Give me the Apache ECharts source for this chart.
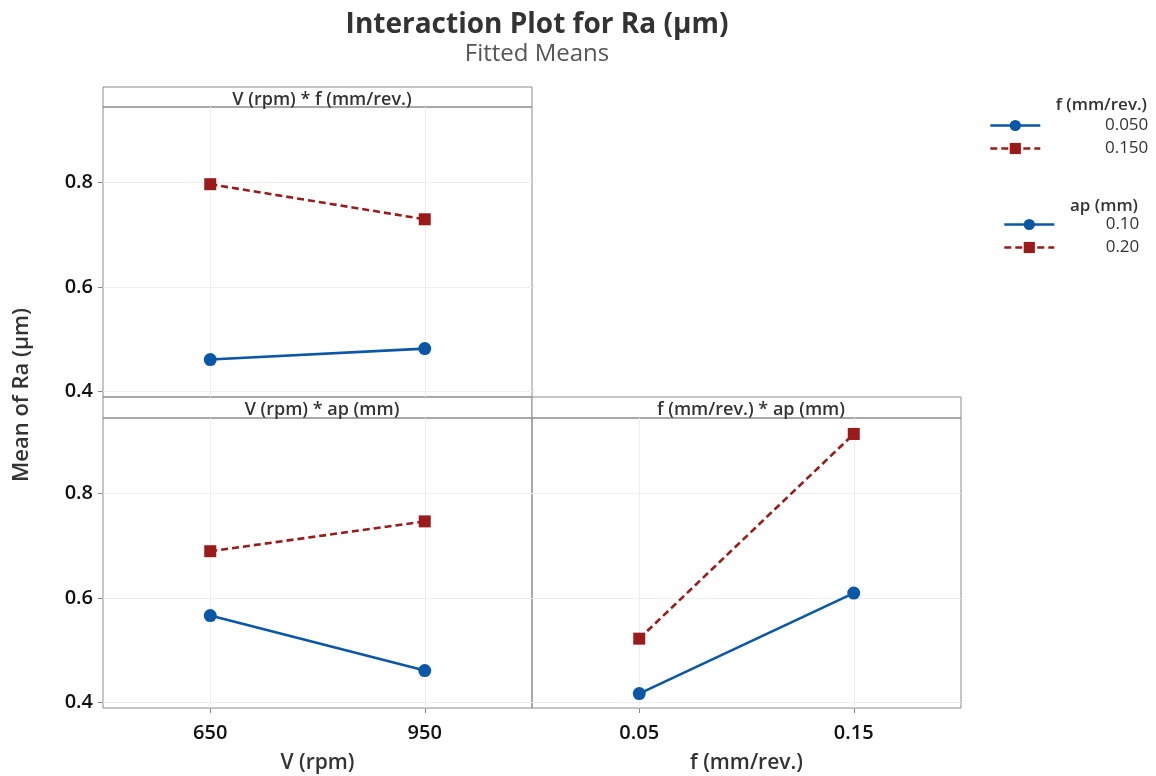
<!DOCTYPE html>
<html>
<head>
<meta charset="utf-8">
<script src="https://cdn.jsdelivr.net/npm/echarts@6/dist/echarts.min.js"></script>
<style>
  html, body { margin: 0; padding: 0; background: #fff; }
  #chart { width: 1156px; height: 776px; }
</style>
</head>
<body>
<div id="chart"></div>
<script>
// factor levels
var speedLevels = [650, 950]
var feedLevels = [0.05, 0.15]
var yTicks = [0.4, 0.6, 0.8]

// V * f panel
var vf_f050 = [0.461, 0.482]
var vf_f150 = [0.796, 0.729]
// V * ap panel
var vap_ap10 = [0.566, 0.461]
var vap_ap20 = [0.689, 0.746]
// f * ap panel
var fap_ap10 = [0.417, 0.609]
var fap_ap20 = [0.522, 0.913]

var blue = '#0a57a8'
var red = '#9b1a1a'
var border = '#8c8c8c'
var font = 'Open Sans'

function pairs(xs, ys) {
  var out = []
  for (var i = 0; i < xs.length; i++) {
    out.push([xs[i], ys[i]])
  }
  return out
}

function lineSeries(name, idx, xs, ys, dashed) {
  return {
    name: name,
    type: 'line',
    xAxisIndex: idx,
    yAxisIndex: idx,
    data: pairs(xs, ys),
    symbol: dashed ? 'rect' : 'circle',
    symbolSize: dashed ? 12 : 13,
    showAllSymbol: true,
    silent: true,
    lineStyle: {
      color: dashed ? red : blue,
      width: 2.6,
      type: dashed ? [7, 4] : 'solid'
    },
    itemStyle: {
      color: dashed ? red : blue
    }
  }
}

function xAxisFor(idx, min, max, ticks, name, showLabels) {
  return {
    type: 'value',
    gridIndex: idx,
    min: min,
    max: max,
    name: showLabels ? name : '',
    nameLocation: 'middle',
    nameGap: 45,
    nameTextStyle: { color: '#333', fontSize: 21, fontFamily: font, fontWeight: 600 },
    axisLine: { show: false },
    axisTick: { show: showLabels, customValues: ticks, length: 5, lineStyle: { color: border } },
    axisLabel: {
      show: showLabels,
      customValues: ticks,
      margin: 15,
      color: '#111',
      fontSize: 20,
      fontFamily: font,
      fontWeight: 600,
      formatter: function (v) { return String(v) }
    },
    splitLine: { show: true, lineStyle: { color: '#eeeeee' } }
  }
}

function yAxisFor(idx, showLabels) {
  return {
    type: 'value',
    gridIndex: idx,
    min: 0.3895,
    max: 0.9435,
    axisLine: { show: false },
    axisTick: { show: showLabels, customValues: yTicks, length: 5, lineStyle: { color: border } },
    axisLabel: {
      show: showLabels,
      customValues: yTicks,
      margin: 10,
      color: '#111',
      fontSize: 20,
      fontFamily: font,
      fontWeight: 600,
      formatter: function (v) { return v.toFixed(1) }
    },
    splitLine: { show: true, lineStyle: { color: '#eeeeee' } }
  }
}

function legendFor(names, left, top, textWidth) {
  return {
    data: names,
    orient: 'vertical',
    left: left,
    top: top,
    padding: 0,
    itemWidth: 50,
    itemHeight: 14,
    itemGap: 6,
    selectedMode: false,
    lineStyle: { width: 2.6 },
    formatter: '{v|{name}}',
    textStyle: {
      rich: {
        v: { width: textWidth, align: 'right', fontSize: 17, fontFamily: font, color: '#333', fontWeight: 500 }
      }
    }
  }
}

function panelGrid(left, top) {
  return {
    left: left,
    top: top,
    width: 429,
    height: 290,
    show: true,
    borderColor: border,
    borderWidth: 1,
    containLabel: false,
    outerBoundsMode: 'none'
  }
}

var chart = echarts.init(document.getElementById('chart'))
var option = {
  backgroundColor: '#fff',
  animation: false,
  title: [
    {
      text: 'Interaction Plot for Ra (µm)',
      subtext: 'Fitted Means',
      left: 532,
      textAlign: 'center',
      top: 6,
      itemGap: 3,
      textStyle: { fontSize: 28, fontWeight: 'bold', color: '#333', fontFamily: font },
      subtextStyle: { fontSize: 24, color: '#555', fontFamily: font }
    },
    {
      text: 'V (rpm) * f (mm/rev.)',
      left: 317,
      textAlign: 'center',
      top: 86,
      textStyle: { fontSize: 18, fontWeight: 600, color: '#333', fontFamily: font }
    },
    {
      text: 'V (rpm) * ap (mm)',
      left: 317,
      textAlign: 'center',
      top: 396,
      textStyle: { fontSize: 18, fontWeight: 600, color: '#333', fontFamily: font }
    },
    {
      text: 'f (mm/rev.) * ap (mm)',
      left: 746,
      textAlign: 'center',
      top: 396,
      textStyle: { fontSize: 18, fontWeight: 600, color: '#333', fontFamily: font }
    },
    {
      text: 'f (mm/rev.)',
      right: 9,
      top: 97,
      padding: 0,
      textStyle: { fontSize: 17, fontWeight: 600, color: '#333', fontFamily: font }
    },
    {
      text: 'ap (mm)',
      right: 18,
      top: 198,
      padding: 0,
      textStyle: { fontSize: 17, fontWeight: 600, color: '#333', fontFamily: font }
    }
  ],
  legend: [
    legendFor(['0.050', '0.150'], 989, 117, 103),
    legendFor(['0.10', '0.20'], 1003, 216, 80)
  ],
  grid: [
    panelGrid(103, 107),
    panelGrid(103, 418),
    panelGrid(532, 418)
  ],
  xAxis: [
    xAxisFor(0, 500, 1100, speedLevels, 'V (rpm)', false),
    xAxisFor(1, 500, 1100, speedLevels, 'V (rpm)', true),
    xAxisFor(2, 0, 0.2, feedLevels, 'f (mm/rev.)', true)
  ],
  yAxis: [
    yAxisFor(0, true),
    yAxisFor(1, true),
    yAxisFor(2, false)
  ],
  graphic: [
    { type: 'rect', shape: { x: 103, y: 87, width: 429, height: 20 }, style: { fill: '#fff', stroke: border, lineWidth: 1 }, z: -1 },
    { type: 'rect', shape: { x: 103, y: 397, width: 429, height: 21 }, style: { fill: '#fff', stroke: border, lineWidth: 1 }, z: -1 },
    { type: 'rect', shape: { x: 532, y: 397, width: 429, height: 21 }, style: { fill: '#fff', stroke: border, lineWidth: 1 }, z: -1 },
    {
      type: 'text',
      x: 22,
      y: 395,
      rotation: Math.PI / 2,
      style: {
        text: 'Mean of Ra (µm)',
        fontSize: 22,
        fontWeight: 600,
        fontFamily: font,
        fill: '#333',
        align: 'center',
        verticalAlign: 'middle'
      }
    }
  ],
  series: [
    lineSeries('0.050', 0, speedLevels, vf_f050, false),
    lineSeries('0.150', 0, speedLevels, vf_f150, true),
    lineSeries('0.10', 1, speedLevels, vap_ap10, false),
    lineSeries('0.20', 1, speedLevels, vap_ap20, true),
    lineSeries('0.10', 2, feedLevels, fap_ap10, false),
    lineSeries('0.20', 2, feedLevels, fap_ap20, true)
  ]
}
chart.setOption(option)
</script>
</body>
</html>
